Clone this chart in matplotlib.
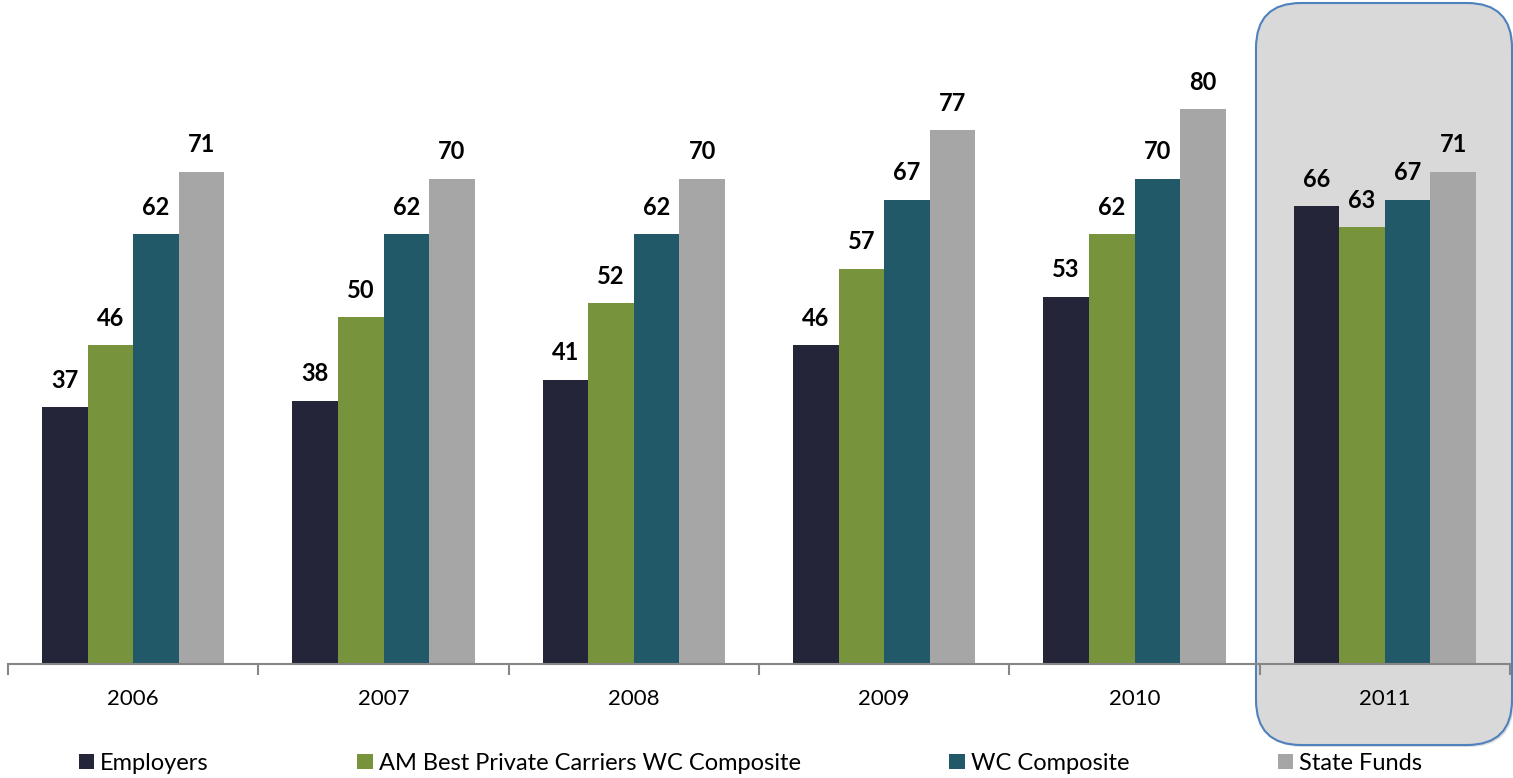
import matplotlib.pyplot as plt
from matplotlib.patches import FancyBboxPatch
import numpy as np

plt.rcParams['font.family'] = ['Lato', 'DejaVu Sans']

years = ['2006', '2007', '2008', '2009', '2010', '2011']
series = ['Employers', 'AM Best Private Carriers WC Composite', 'WC Composite', 'State Funds']
employers = [37, 38, 41, 46, 53, 66]
am_best = [46, 50, 52, 57, 62, 63]
wc_composite = [62, 62, 62, 67, 70, 67]
state_funds = [71, 70, 70, 77, 80, 71]
colors = ['#25253A', '#77933C', '#215968', '#A6A6A6']

fig = plt.figure(figsize=(15.13, 7.78), dpi=100)
ax = fig.add_axes([8 / 1513, 114 / 778, 1502 / 1513, 660 / 778])
ax.patch.set_visible(False)

# highlighted 2011 box (figure inches), with a faint shadow
shadow = FancyBboxPatch((12.58, 0.31), 2.56, 7.42,
                        boxstyle='round,pad=0,rounding_size=0.45',
                        transform=fig.dpi_scale_trans, facecolor='#BFBFBF',
                        edgecolor='none', alpha=0.5, zorder=-2)
box = FancyBboxPatch((12.56, 0.33), 2.56, 7.42,
                     boxstyle='round,pad=0,rounding_size=0.45',
                     transform=fig.dpi_scale_trans, facecolor='#D9D9D9',
                     edgecolor='#4F81BD', linewidth=1.5, zorder=-1)
fig.patches.extend([shadow, box])

x = np.arange(len(years))
w = 0.182
for i, (vals, col) in enumerate(zip([employers, am_best, wc_composite, state_funds], colors)):
    pos = x + (i - 1.5) * w
    bars = ax.bar(pos, vals, width=w, color=col, label=series[i], zorder=2)
    for b, v in zip(bars, vals):
        ax.annotate(str(v), (b.get_x() + b.get_width() / 2, v), xytext=(0, 27),
                    textcoords='offset pixels', ha='center', va='center',
                    fontsize=17, fontweight='bold', color='black')

ax.set_xlim(-0.5, 5.5)
ax.set_ylim(0, 95.2)
ax.set_yticks([])
for s in ['top', 'right', 'left']:
    ax.spines[s].set_visible(False)
ax.spines['bottom'].set_color('#868686')
ax.spines['bottom'].set_linewidth(1.5)

ax.set_xticks(x)
ax.set_xticklabels(years, fontsize=16)
ax.tick_params(axis='x', which='major', length=0, pad=18)
ax.set_xticks(np.arange(-0.5, 6.0, 1.0), minor=True)
ax.tick_params(axis='x', which='minor', length=8, width=1.5, color='#868686', direction='out')

fig.legend(loc='center', bbox_to_anchor=(0.496, 0.019), ncol=4, frameon=False,
           fontsize=17, handlelength=0.65, handleheight=0.65, handletextpad=0.25,
           columnspacing=6.3, borderpad=0)

fig.savefig('out.png', dpi=100)
